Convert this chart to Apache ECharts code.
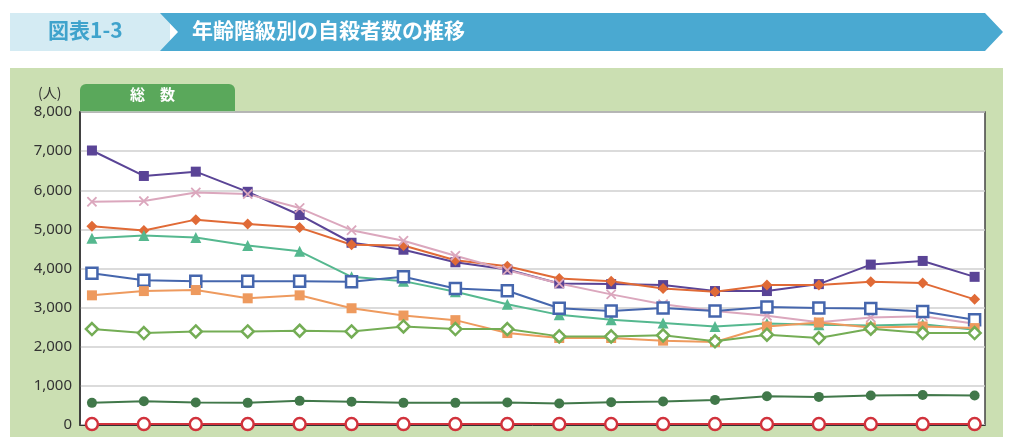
<!DOCTYPE html>
<html lang="ja">
<head>
	<meta charset="UTF-8">
	<title>年齢階級別の自殺者数の推移</title>
	<style>
	body, div { margin: 0; padding: 0; }
	#echart { width: 1024px; height: 437px; }
	</style>
</head>
<body>
	<div id="echart"></div>
	<script src="https://cdn.jsdelivr.net/npm/echarts@6/dist/echarts.min.js"></script>
	<script>
	// 年（横軸ラベルは画像では切れている）
	var years = ['2007','2008','2009','2010','2011','2012','2013','2014','2015','2016','2017','2018','2019','2020','2021','2022','2023','2024'];
	var yTicks = [0, 1000, 2000, 3000, 4000, 5000, 6000, 7000, 8000];

	var age50 = [7016,6365,6475,5960,5368,4658,4480,4159,3973,3618,3601,3576,3424,3424,3601,4100,4193,3787];
	var age40 = [5080,4970,5249,5139,5046,4607,4590,4210,4058,3745,3677,3491,3406,3576,3576,3660,3627,3212];
	var age60 = [5706,5723,5943,5901,5545,4979,4708,4328,3956,3618,3339,3085,2916,2790,2629,2748,2781,2587];
	var age30 = [4776,4844,4793,4590,4438,3787,3677,3407,3085,2815,2688,2604,2519,2595,2561,2544,2578,2434];
	var age70 = [3880,3702,3677,3677,3677,3660,3787,3491,3432,2984,2916,2992,2916,3018,2992,2975,2899,2688];
	var age20 = [3314,3423,3449,3238,3314,2984,2798,2680,2350,2223,2223,2156,2122,2519,2620,2494,2519,2477];
	var age80 = [2451,2350,2392,2392,2409,2392,2519,2451,2451,2265,2265,2291,2139,2308,2223,2460,2350,2350];
	var age10 = [566,609,575,566,617,592,566,566,575,549,583,600,642,735,718,752,769,752];
	var under10 = [25,25,25,25,25,25,25,25,25,25,25,25,25,25,25,25,25,25];

	function pts(arr) {
		return arr.map(function (v, i) { return [i, v]; });
	}
	function line(name, data, color, symbol, size, hollow) {
		return {
			name: name, type: 'line', data: pts(data),
			symbol: symbol, symbolSize: size,
			lineStyle: { color: color, width: 2 },
			itemStyle: hollow
				? { color: '#fff', borderColor: color, borderWidth: 2.5 }
				: { color: color, borderWidth: 0 },
			z: 3
		};
	}

	var myEchart = echarts.init(document.getElementById('echart'));
	var option = {
		animation: false,
		backgroundColor: '#fff',
		graphic: [
			{ type: 'rect', shape: { x: 10, y: 13, width: 160, height: 38 }, style: { fill: '#d4ebf3' } },
			{ type: 'text', left: 48, top: 20, style: { text: '図表1-3', fill: '#3fa3cc', font: 'bold 21px "Noto Sans CJK JP"' } },
			{ type: 'polygon', shape: { points: [[160,13],[985,13],[1003,32],[985,51],[160,51],[178,32]] }, style: { fill: '#4aa9d1' } },
			{ type: 'text', left: 192, top: 20, style: { text: '年齢階級別の自殺者数の推移', fill: '#fff', font: 'bold 21px "Noto Sans CJK JP"' } },
			{ type: 'rect', shape: { x: 10, y: 68, width: 993, height: 369 }, style: { fill: '#cbdfb2' }, z: -10 },
			{ type: 'rect', shape: { x: 80, y: 112, width: 905, height: 313 }, style: { fill: '#fff', stroke: '#444', lineWidth: 1.5 }, z: -9 },
			{ type: 'rect', shape: { x: 80, y: 84, width: 155, height: 28, r: [6,6,0,0] }, style: { fill: '#5aa85b' } },
			{ type: 'text', left: 130, top: 87, style: { text: '総　数', fill: '#fff', font: 'bold 15px "Noto Sans CJK JP"' } },
			{ type: 'text', left: 38, top: 86, style: { text: '(人)', fill: '#333', font: '14px "Noto Sans CJK JP"' } }
		],
		grid: { left: 80, right: 39, top: 112, bottom: 12 },
		xAxis: {
			type: 'value', min: -0.23, max: 17.2,
			axisLine: { show: true, onZero: false, lineStyle: { color: '#333' } },
			axisTick: { show: false }, axisLabel: { show: false }, splitLine: { show: false }
		},
		yAxis: {
			type: 'value', min: yTicks[0], max: yTicks[yTicks.length - 1], interval: 1000,
			axisLine: { show: true, onZero: false, lineStyle: { color: '#333', width: 1.5 } },
			axisTick: { show: false },
			axisLabel: { color: '#333', fontSize: 15, fontFamily: 'Noto Sans', margin: 8,
				formatter: function (v) { return v.toLocaleString('en-US'); } },
			splitLine: { lineStyle: { color: '#cfcfcf', width: 1.5 } }
		},
		series: [
			line('50歳代', age50, '#5a4496', 'rect', 10, false),
			line('40歳代', age40, '#e06a36', 'diamond', 11, false),
			line('60歳代', age60, '#dba7bd', 'image://data:image/svg+xml;utf8,<svg xmlns="http://www.w3.org/2000/svg" width="12" height="12"><path d="M1 1L11 11M11 1L1 11" stroke="%23dba7bd" stroke-width="2"/></svg>', 11, false),
			line('30歳代', age30, '#55b88f', 'triangle', 11, false),
			line('70歳代', age70, '#4566ad', 'rect', 11, true),
			line('20歳代', age20, '#ee9a5e', 'rect', 10, false),
			line('80歳以上', age80, '#74ad55', 'diamond', 12, true),
			line('10歳代', age10, '#41784a', 'circle', 10, false),
			line('10歳未満', under10, '#d1323c', 'circle', 12, true)
		]
	};
	myEchart.setOption(option);
	</script>
</body>
</html>
